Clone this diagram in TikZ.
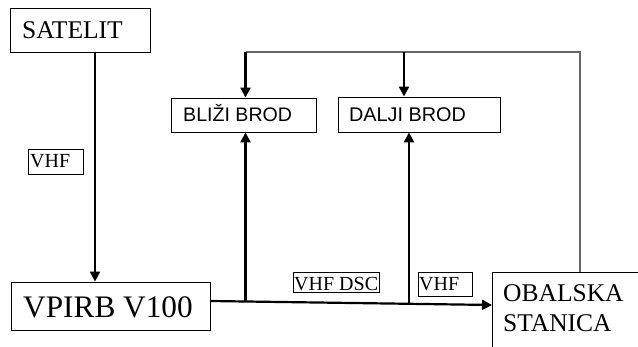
\documentclass[tikz,border=0pt]{standalone}
\usepackage{fontspec}
\setmainfont{Liberation Serif}
\newfontfamily\arialf{Liberation Sans}
\usetikzlibrary{arrows.meta}
\tikzset{
  box/.style={draw=black, line width=0.9pt, inner sep=0pt},
  lbl/.style={draw=black, line width=0.7pt, inner sep=0pt},
  txt/.style={anchor=base west, inner sep=0pt},
  arr/.style={line width=2.2pt, -{Triangle[length=10pt,width=10pt]}},
  thick line/.style={line width=2.2pt},
  grayline/.style={draw=black!60, line width=1.4pt},
}
\begin{document}
\begin{tikzpicture}[x=1pt,y=-1pt]
\useasboundingbox (0,0) rectangle (638,347);
\fill[white] (0,0) rectangle (638,347);
% boxes
\node[box, minimum width=140pt, minimum height=44pt] (sat) at (80,30.5) {};
\node[box, minimum width=199pt, minimum height=48pt] (vp) at (110.5,306) {};
\node[box, minimum width=145pt, minimum height=34pt] (bli) at (243.5,115) {};
\node[box, minimum width=162pt, minimum height=35pt] (dal) at (419,114.5) {};
\begin{scope}
\clip (0,0) rectangle (638,347);
\node[box, anchor=north west, minimum width=200pt, minimum height=120pt] (obs) at (492,272) {};
\end{scope}
% label boxes
\node[lbl, minimum width=55pt, minimum height=25pt] (vhfa) at (55.5,161.5) {};
\node[lbl, minimum width=86pt, minimum height=20pt] (vhfb) at (336,282) {};
\node[lbl, minimum width=54pt, minimum height=24pt] (vhfc) at (445,284) {};
% texts
\node[txt, font=\fontsize{25.5}{30}\selectfont] (satt) at (22,39) {SATELIT};
\node[txt, font=\fontsize{31.3}{36}\selectfont] (vpt) at (23,318) {VPIRB V100};
\node[txt, font=\arialf\fontsize{19.6}{24}\selectfont] (blit) at (183,122) {BLIŽI BROD};
\node[txt, font=\arialf\fontsize{19.8}{24}\selectfont] (dalt) at (349,122) {DALJI BROD};
\node[txt, font=\fontsize{25.5}{30}\selectfont] (obt1) at (503,302) {OBALSKA};
\node[txt, font=\fontsize{25.5}{30}\selectfont] (obt2) at (503,332) {STANICA};
\node[txt, font=\fontsize{20}{24}\selectfont] (vat) at (30,168) {VHF};
\node[txt, font=\fontsize{20}{24}\selectfont] (vbt) at (294,291) {VHF DSC};
\node[txt, font=\fontsize{20}{24}\selectfont] (vct) at (419,291) {VHF};
% coordinates
\coordinate (cx1) at (95,0);
\coordinate (start) at (210,301);
\coordinate (j1) at (245.5,301.5);
\coordinate (j2) at (409,303.8);
\coordinate (end) at (492,305);
\coordinate (t1) at (245.5,52);
\coordinate (t2) at (404,52);
\coordinate (tr) at (580,52);
% connectors
\draw[arr] (sat.south -| cx1) -- (vp.north -| cx1);
\draw[thick line] (start) -- (j2);
\draw[arr] (j2) -- (end);
\draw[arr] (j1) -- (bli.south -| j1);
\draw[arr] (j2) -- (dal.south -| j2);
\draw[grayline] (obs.north -| tr) -- (tr) -- (t1);
\draw[arr] (t1) -- (bli.north -| t1);
\draw[arr] (t2) -- (dal.north -| t2);
\end{tikzpicture}
\end{document}
